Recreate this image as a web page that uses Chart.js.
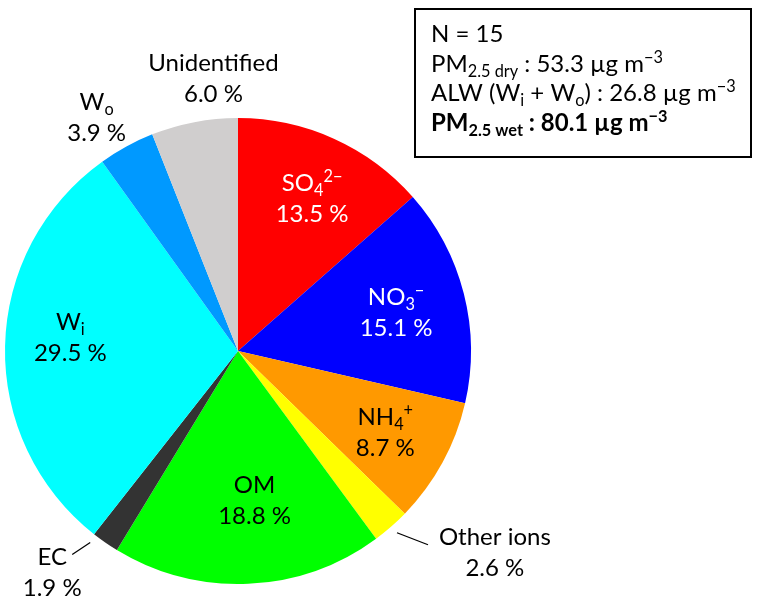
<!DOCTYPE html>
<html>
<head>
<meta charset="utf-8">
<script src="https://cdn.jsdelivr.net/npm/chart.js@4/dist/chart.umd.min.js"></script>
<style>
  body { margin: 0; background: #fff; }
</style>
</head>
<body>
<canvas id="pieChart" width="764" height="610"></canvas>
<script>
/* PM2.5 wet composition, clockwise from 12 o'clock */

const categories = ["SO4 2-", "NO3 -", "NH4 +", "Other ions", "OM", "EC", "Wi", "Wo", "Unidentified"];
const shares = [13.5, 15.1, 8.7, 2.6, 18.8, 1.9, 29.5, 3.9, 6.0];
const sliceColors = ["#FF0000", "#0000FF", "#FF9900", "#FFFF00", "#00FF00", "#333333", "#00FFFF", "#0099FF", "#D0CECE"];

// label text pieces: [text, "" | "sub" | "sup"]
const labelParts = [
    [["SO", ""], ["4", "sub"], ["2\u2212", "sup"]],
    [["NO", ""], ["3", "sub"], ["\u2212", "sup"]],
    [["NH", ""], ["4", "sub"], ["+", "sup"]],
    [["Other ions", ""]],
    [["OM", ""]],
    [["EC", ""]],
    [["W", ""], ["i", "sub"]],
    [["W", ""], ["o", "sub"]],
    [["Unidentified", ""]]
];
const labelColors = ["#fff", "#fff", "#000", "#000", "#000", "#000", "#000", "#000", "#000"];

// where each label sits: fraction of radius along slice middle, plus nudge
const labelPlace = [
    { f: 0.72, dx: 5, dy: 0 },
    { f: 0.70, dx: 0, dy: 1 },
    { f: 0.72, dx: 0, dy: 1 },
    { f: 1.30, dx: 58, dy: -27 },
    { f: 0.64, dx: 10, dy: 0 },
    { f: 1.00, dx: -53, dy: 30 },
    { f: 0.72, dx: 0, dy: -10 },
    { f: 1.15, dx: -13, dy: 1 },
    { f: 1.18, dx: 27, dy: -3 }
];
// leader lines, offsets from slice edge point
const leaders = {
    3: [[6, 6], [37, 18]],
    5: [[-15, 0], [-33, 12]]
};

const boxLines = [
    { bold: false, parts: [["N = 15", ""]] },
    { bold: false, parts: [["PM", ""], ["2.5 dry", "sub"], [" : 53.3 \u00b5g m", ""], ["\u22123", "sup"]] },
    { bold: false, parts: [["ALW (W", ""], ["i", "sub"], [" + W", ""], ["o", "sub"], [") : 26.8 \u00b5g m", ""], ["\u22123", "sup"]] },
    { bold: true, parts: [["PM", ""], ["2.5 wet", "sub"], [" : 80.1 \u00b5g m", ""], ["\u22123", "sup"]] }
];

const FONT = "Lato, 'Noto Sans', sans-serif";
const SIZE = 24;

function fontOf(size, bold) {
    return (bold ? "bold " : "") + size + "px " + FONT;
}

function richWidth(ctx, parts, bold) {
    let w = 0;
    parts.forEach(p => {
        ctx.font = fontOf(p[1] ? SIZE * 0.68 : SIZE, bold);
        w += ctx.measureText(p[0]).width;
    });
    return w;
}

// draws text pieces starting at x, with baseline y
function drawRich(ctx, parts, x, y, bold) {
    parts.forEach(p => {
        let size = SIZE, yy = y;
        if (p[1] === "sub") { size = SIZE * 0.68; yy = y + SIZE * 0.2; }
        if (p[1] === "sup") { size = SIZE * 0.68; yy = y - SIZE * 0.38; }
        ctx.font = fontOf(size, bold);
        ctx.fillText(p[0], x, yy);
        x += ctx.measureText(p[0]).width;
    });
}

const labelPlugin = {
    id: "pieLabels",
    afterDraw(chart) {
        const ctx = chart.ctx;
        const meta = chart.getDatasetMeta(0);
        ctx.save();
        ctx.textBaseline = "alphabetic";
        ctx.textAlign = "left";
        meta.data.forEach((arc, i) => {
            const mid = (arc.startAngle + arc.endAngle) / 2;
            const r = arc.outerRadius;
            const cx = arc.x, cy = arc.y;
            const pl = labelPlace[i];
            const lx = cx + Math.cos(mid) * r * pl.f + pl.dx;
            const ly = cy + Math.sin(mid) * r * pl.f + pl.dy;
            ctx.fillStyle = labelColors[i];
            const w1 = richWidth(ctx, labelParts[i], false);
            drawRich(ctx, labelParts[i], lx - w1 / 2, ly - 7, false);
            const pct = shares[i].toFixed(1) + " %";
            const w2 = richWidth(ctx, [[pct, ""]], false);
            drawRich(ctx, [[pct, ""]], lx - w2 / 2, ly + 24, false);

            if (leaders[i]) {
                const ex = cx + Math.cos(mid) * r;
                const ey = cy + Math.sin(mid) * r;
                ctx.strokeStyle = "#000";
                ctx.lineWidth = 1.3;
                ctx.beginPath();
                ctx.moveTo(ex + leaders[i][0][0], ey + leaders[i][0][1]);
                ctx.lineTo(ex + leaders[i][1][0], ey + leaders[i][1][1]);
                ctx.stroke();
            }
        });

        // info box
        ctx.strokeStyle = "#000";
        ctx.lineWidth = 2;
        ctx.strokeRect(415, 9, 336, 148);
        ctx.fillStyle = "#000";
        boxLines.forEach((line, k) => {
            drawRich(ctx, line.parts, 431, 42 + k * 29.7, line.bold);
        });
        ctx.restore();
    }
};

const CHART = document.getElementById("pieChart");
let pieChart = new Chart(CHART, {
    type: "pie",
    data: {
        labels: categories,
        datasets: [
            {
                data: shares,
                backgroundColor: sliceColors,
                borderWidth: 0
            }
        ]
    },
    options: {
        responsive: false,
        animation: false,
        devicePixelRatio: 1,
        layout: {
            padding: { left: 5, right: 293, top: 118, bottom: 26 }
        },
        plugins: {
            legend: { display: false },
            tooltip: { enabled: false }
        }
    },
    plugins: [labelPlugin]
});
</script>
</body>
</html>
